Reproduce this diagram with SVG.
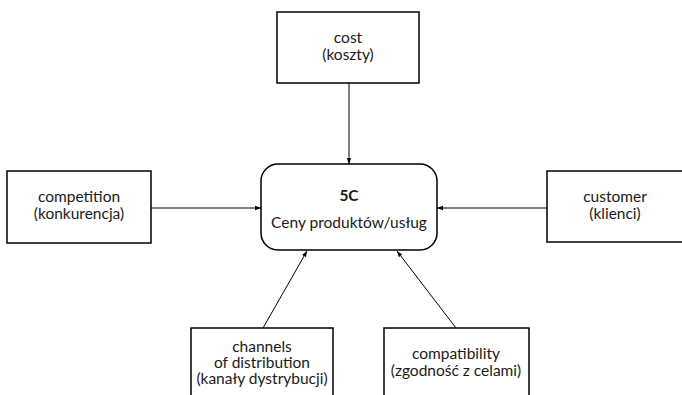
<svg xmlns="http://www.w3.org/2000/svg" width="682" height="395" viewBox="0 0 682 395">
  <style>
    .box { fill: #ffffff; stroke: #000000; stroke-width: 1.5; }
    .lbl { font-family: Lato, "Open Sans", "Liberation Sans", sans-serif; font-size: 15.5px; fill: #1a1a1a; text-anchor: middle; }
    .bold { font-weight: bold; }
    .edge { stroke: #000000; stroke-width: 1; fill: none; marker-end: url(#arrow); }
  </style>
  <defs>
    <marker id="arrow" viewBox="0 0 6 6" refX="6" refY="3" markerWidth="6" markerHeight="6" markerUnits="userSpaceOnUse" orient="auto">
      <path d="M0,0.8 L6,3 L0,5.2 Z" fill="#000000"/>
    </marker>
  </defs>
  <rect width="682" height="395" fill="#ffffff"/>

  <!-- connectors -->
  <g id="connectors">
    <line class="edge" x1="349" y1="83" x2="349" y2="164"/>
    <line class="edge" x1="151" y1="208" x2="261" y2="208"/>
    <line class="edge" x1="547" y1="208" x2="437" y2="208"/>
    <line class="edge" x1="263" y1="328" x2="307" y2="251"/>
    <line class="edge" x1="456" y1="328" x2="397" y2="251"/>
  </g>

  <g id="center">
    <rect class="box" x="261" y="164" width="176" height="86" rx="17"/>
    <text class="lbl bold" x="349" y="201">5C</text>
    <text class="lbl" x="349" y="228">Ceny produktów/usług</text>
  </g>

  <g id="cost">
    <rect class="box" x="277" y="12" width="142" height="71"/>
    <text class="lbl" x="348" y="43">cost<tspan x="348" dy="17">(koszty)</tspan></text>
  </g>

  <g id="competition">
    <rect class="box" x="7" y="171" width="144" height="72"/>
    <text class="lbl" x="79" y="202">competition<tspan x="79" dy="17">(konkurencja)</tspan></text>
  </g>

  <g id="customer">
    <rect class="box" x="547" y="171" width="140" height="71"/>
    <text class="lbl" x="615" y="202">customer<tspan x="615" dy="17">(klienci)</tspan></text>
  </g>

  <g id="channels">
    <rect class="box" x="191" y="328" width="142" height="75"/>
    <text class="lbl" x="262" y="352">channels<tspan x="262" dy="16">of distribution</tspan><tspan x="262" dy="16">(kanały dystrybucji)</tspan></text>
  </g>

  <g id="compatibility">
    <rect class="box" x="384" y="328" width="145" height="75"/>
    <text class="lbl" x="456" y="359">compatibility<tspan x="456" dy="17">(zgodność z celami)</tspan></text>
  </g>
</svg>
